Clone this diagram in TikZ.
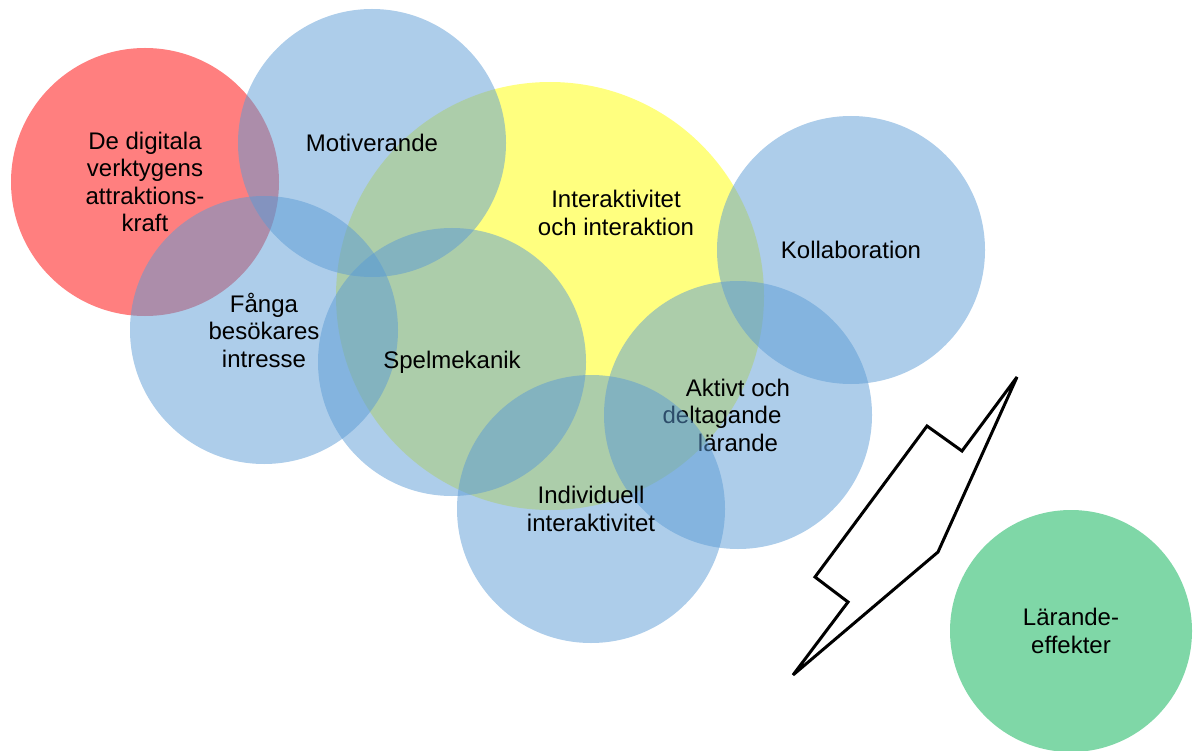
\documentclass[tikz,border=0pt]{standalone}
\usepackage{fontspec}
\setmainfont{Liberation Sans}
\definecolor{bubblered}{HTML}{FF0000}
\definecolor{bubbleyellow}{HTML}{FFFF00}
\definecolor{bubbleblue}{HTML}{5B9BD5}
\definecolor{bubblegreen}{HTML}{00B050}
\def\bubblesize{268pt}

\begin{document}
\begin{tikzpicture}[x=1pt,y=-1pt]
    \tikzstyle{annot}=[align=center, font=\fontsize{24}{27.5}\selectfont]
    \tikzstyle{bubble}=[annot, circle, inner sep=0pt, minimum size=\bubblesize, fill opacity=0.5, text opacity=1]
    \tikzstyle{red bubble}=[bubble, fill=bubblered]
    \tikzstyle{yellow bubble}=[bubble, fill=bubbleyellow, minimum size=428pt]
    \tikzstyle{blue bubble}=[bubble, fill=bubbleblue]
    \tikzstyle{green bubble}=[bubble, fill=bubblegreen, minimum size=242pt]

    \useasboundingbox (0,0) rectangle (1193,751);

    % Draw the attraction bubble
    \node[red bubble] (attr) at (145,182) {De digitala\\verktygens\\attraktions-\\kraft};

    % Draw the big interaction bubble, its text sits off centre
    \node[yellow bubble] (inter) at (550,296) {};
    \node[annot] (inter-text) at (616,213) {Interaktivitet\\och interaktion};

    % Draw the blue bubbles, the later ones lie over the earlier ones
    \foreach \name / \x / \y / \txt in {mot/372/143/{Motiverande},
            fanga/264/330/{F\aa nga\\bes\"okares\\intresse},
            spel/452/362/{Spelmekanik},
            koll/851/250/{Kollaboration},
            aktiv/738/415/{Aktivt och\\deltagande\kern32pt\\l\"arande},
            indiv/591/509/{Individuell\\interaktivitet}}
        \node[blue bubble] (\name) at (\x,\y) {\txt};

    % Draw the outcome bubble
    \node[green bubble] (effekt) at (1071,631) {L\"arande-\\effekter};

    % The lightning bolt
    \draw[line width=3pt, miter limit=3] (1017,377) -- (962,451) -- (927,426) -- (815,577)
        -- (848,602) -- (793,675) -- (938,552) -- cycle;
\end{tikzpicture}
\end{document}
